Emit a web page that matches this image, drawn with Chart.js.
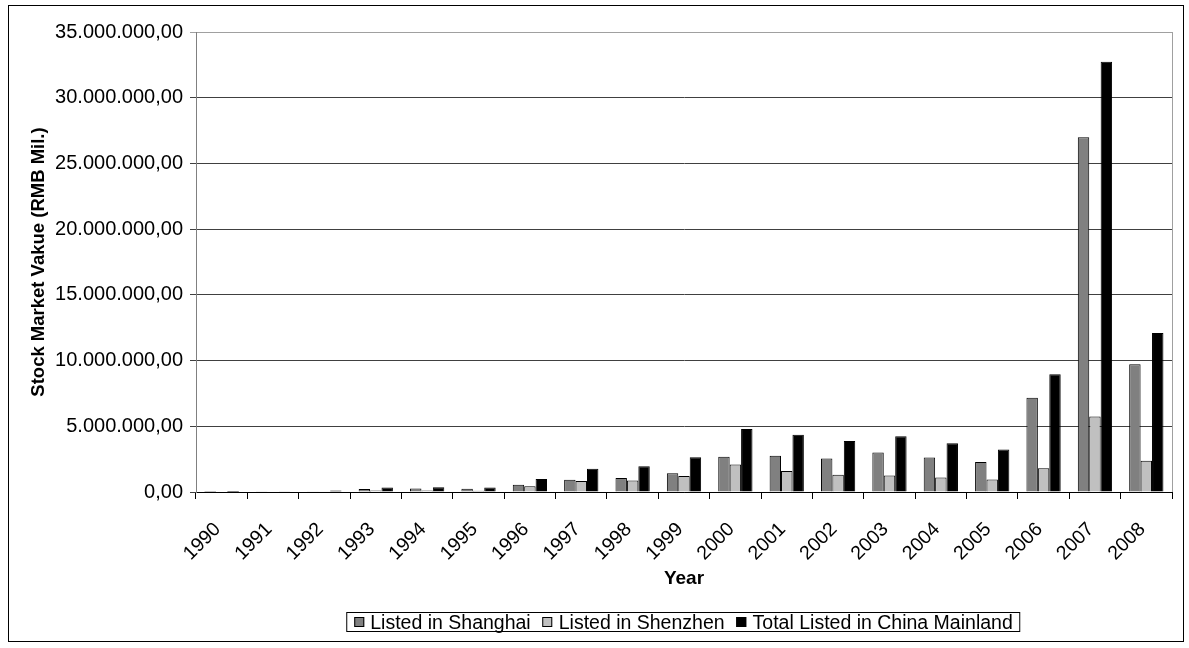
<!DOCTYPE html>
<html>
<head>
<meta charset="utf-8">
<title>Stock Market Value</title>
<script src="https://cdn.jsdelivr.net/npm/chart.js@4.4.1/dist/chart.umd.min.js"></script>
<style>
  html, body { margin: 0; padding: 0; background: #fff; }
  #stage { position: relative; width: 1189px; height: 648px; overflow: hidden; }
  #frame { position: absolute; left: 8px; top: 5px; width: 1174px; height: 635px; border: 1px solid #000; box-sizing: content-box; }
  #chart { position: absolute; left: 0; top: 0; }
  #legend {
    position: absolute; top: 612px; left: 683px; transform: translateX(-50%);
    height: 18px; border: 1px solid #000; background: #fff;
    display: flex; align-items: center; white-space: nowrap;
    padding: 0 6px 0 7px;
    font-family: "Liberation Sans", Arial, sans-serif; font-size: 19.5px; color: #000;
  }
  #legend .item { display: flex; align-items: center; margin-right: 12px; }
  #legend .item:last-child { margin-right: 0; }
  #legend .swatch { width: 8px; height: 8px; border: 1px solid #000; margin-right: 6px; }
</style>
</head>
<body>
<div id="stage">
  <div id="frame"></div>
  <canvas id="chart" width="1189" height="648"></canvas>
  <div id="legend"></div>
</div>
<script>
// Years on the category axis
const years = ['1990', '1991', '1992', '1993', '1994', '1995', '1996', '1997', '1998', '1999',
               '2000', '2001', '2002', '2003', '2004', '2005', '2006', '2007', '2008'];

// Market value, RMB million
const shanghai = [1200, 30000, 60000, 230000, 260000, 250000, 560000, 930000, 1060000, 1430000,
                  2680000, 2750000, 2550000, 3000000, 2620000, 2280000, 7180000, 26990000, 9720000];
const shenzhen = [0, 35000, 45000, 120000, 110000, 95000, 440000, 840000, 880000, 1220000,
                  2100000, 1600000, 1320000, 1250000, 1110000, 950000, 1800000, 5750000, 2380000];
const total = [1200, 65000, 105000, 350000, 370000, 345000, 980000, 1770000, 1950000, 2650000,
               4800000, 4350000, 3880000, 4250000, 3710000, 3240000, 8960000, 32740000, 12100000];

const seriesNames = ['Listed in Shanghai', 'Listed in Shenzhen', 'Total Listed in China Mainland'];
const seriesColors = ['#808080', '#c0c0c0', '#000000'];

// Y axis range and step
const yMax = 35000000;
const yStep = 5000000;

const FONT = '"Liberation Sans", Arial, sans-serif';
const PAD_LEFT = 24;

// 35.000.000,00 style number format
function fmt(v) {
  const parts = Math.round(v).toString().replace(/\B(?=(\d{3})+(?!\d))/g, '.');
  return parts + ',00';
}

// Grey frame around the plot area, drawn under the axes
const plotFrame = {
  id: 'plotFrame',
  beforeDraw(chart) {
    const {ctx, chartArea: a} = chart;
    ctx.save();
    ctx.strokeStyle = '#a0a0a0';
    ctx.lineWidth = 1;
    ctx.strokeRect(Math.round(a.left) + 0.5, Math.round(a.top) + 0.5,
                   Math.round(a.right - a.left), Math.round(a.bottom - a.top));
    ctx.restore();
  }
};

const datasets = [shanghai, shenzhen, total].map((d, i) => ({
  label: seriesNames[i],
  data: d,
  backgroundColor: seriesColors[i],
  borderColor: '#000',
  // bars thinner than a pixel get no outline
  borderWidth: (c) => (c.raw < 50000 ? 0 : 1),
  barPercentage: 1.0,
  categoryPercentage: 0.667
}));

new Chart(document.getElementById('chart'), {
  type: 'bar',
  data: { labels: years, datasets },
  plugins: [plotFrame],
  options: {
    responsive: false,
    animation: false,
    devicePixelRatio: 1,
    layout: { padding: { left: PAD_LEFT, right: 17, top: 32, bottom: 54 } },
    plugins: { legend: { display: false }, tooltip: { enabled: false } },
    scales: {
      x: {
        grid: { offset: true, drawOnChartArea: false, drawTicks: true, tickLength: 7, color: '#000' },
        border: { color: '#000', width: 1 },
        ticks: {
          maxRotation: 45, minRotation: 45, padding: 19, labelOffset: -4, color: '#000',
          font: { family: FONT, size: 19.5 }
        },
        title: {
          display: true, text: 'Year', color: '#000',
          font: { family: FONT, size: 19, weight: 'bold' }
        },
        afterFit(scale) { scale.height = 102; }
      },
      y: {
        min: 0, max: yMax,
        ticks: {
          stepSize: yStep, padding: 7, color: '#000',
          font: { family: FONT, size: 20 },
          callback: (v) => fmt(v)
        },
        grid: {
          tickLength: 6,
          color: (c) => (c.tick && c.tick.value === yMax) ? '#a0a0a0' : '#404040'
        },
        border: { color: '#808080', width: 1 },
        title: {
          display: true, text: 'Stock Market Vakue (RMB Mil.)', color: '#000',
          font: { family: FONT, size: 18.5, weight: 'bold' }
        },
        afterFit(scale) { scale.width = 196 - PAD_LEFT; }
      }
    }
  }
});

// Legend row built from the series names and colours
const legend = document.getElementById('legend');
seriesNames.forEach((name, i) => {
  const item = document.createElement('span');
  item.className = 'item';
  const sw = document.createElement('span');
  sw.className = 'swatch';
  sw.style.background = seriesColors[i];
  const tx = document.createElement('span');
  tx.textContent = name;
  item.appendChild(sw);
  item.appendChild(tx);
  legend.appendChild(item);
});
</script>
</body>
</html>
